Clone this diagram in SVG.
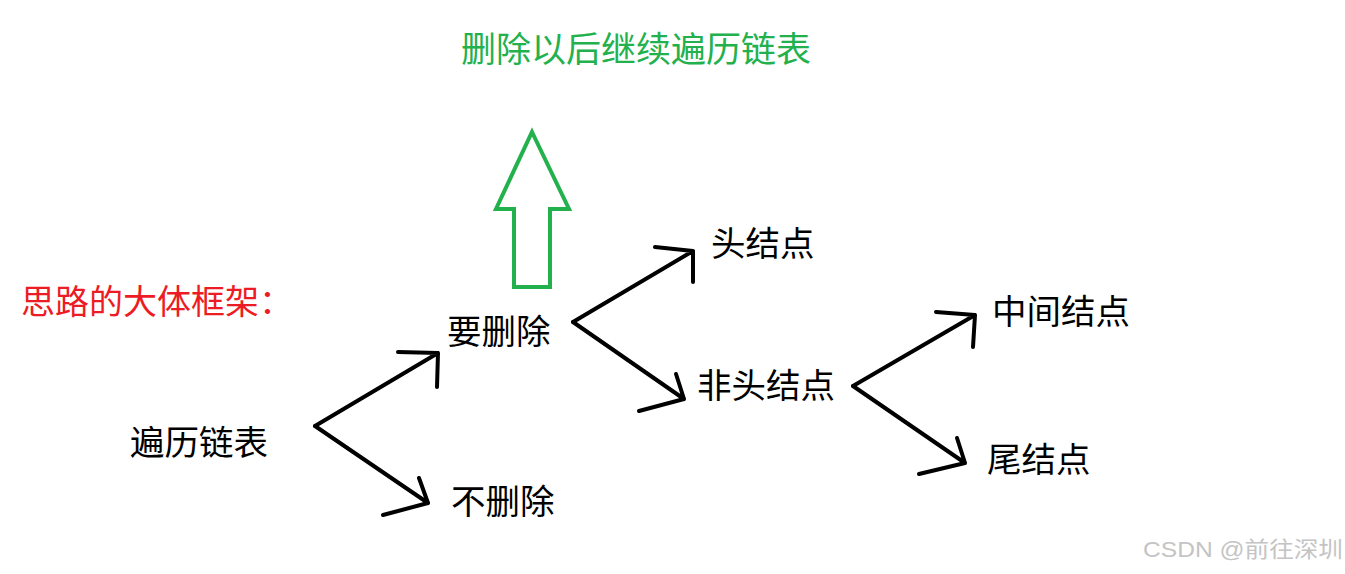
<svg xmlns="http://www.w3.org/2000/svg" width="1345" height="574" viewBox="0 0 1345 574">
<style>
text{font-family:'Liberation Sans','Noto Sans CJK SC',sans-serif;font-size:34.5px;fill:#000}
.green{fill:#22b14c;font-size:35px}
.red{fill:#ed1c24;font-size:34px}
.wm{fill:#c4c4c4;font-size:22px}
.conn path{fill:none;stroke:#000;stroke-width:4;stroke-linecap:round;stroke-linejoin:round}
</style>
<rect width="1345" height="574" fill="#fff"/>
<g id="title"><text class="green" x="461" y="62">删除以后继续遍历链表</text></g>
<g id="up-arrow"><path d="M532,132 L569,209 L550,209 L550,287 L514,287 L514,209 L496,209 Z" fill="none" stroke="#22b14c" stroke-width="4" stroke-linejoin="miter"/></g>
<g id="framework-label"><text class="red" x="21" y="314">思路的大体框架：</text></g>
<g id="traverse"><text x="130" y="455">遍历链表</text></g>
<g id="delete"><text x="447" y="344">要删除</text></g>
<g id="no-delete"><text x="451" y="514">不删除</text></g>
<g id="head-node"><text x="711" y="256">头结点</text></g>
<g id="non-head-node"><text x="697" y="398">非头结点</text></g>
<g id="middle-node"><text x="992" y="324">中间结点</text></g>
<g id="tail-node"><text x="987" y="472">尾结点</text></g>
<g class="conn" id="connectors">
<path d="M315,426 L438,353 M398,352 L438,353 L437,387"/>
<path d="M315,426 L428,503 M419,478 L428,503 L383,515"/>
<path d="M573,322 L693,251 M655,247 L693,251 L693,282"/>
<path d="M573,322 L684,399 M676,374 L684,399 L639,411"/>
<path d="M853,386 L975,315 M936,312 L975,315 L973,347"/>
<path d="M853,386 L965,463 M957,438 L965,463 L919,474"/>
</g>
<g id="watermark"><text class="wm" x="1143" y="557" textLength="200" lengthAdjust="spacingAndGlyphs">CSDN @前往深圳</text></g>
</svg>
